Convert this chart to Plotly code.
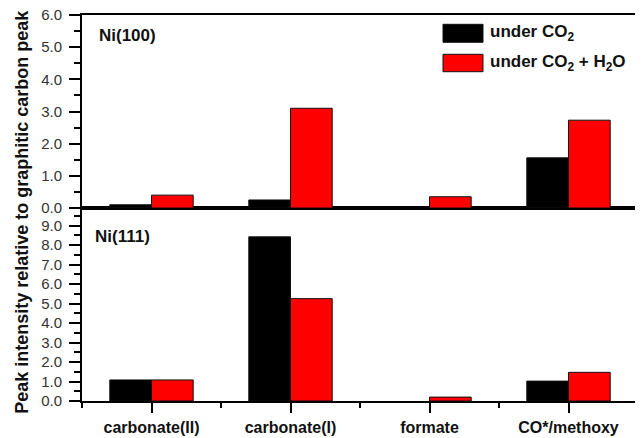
import plotly.graph_objects as go

categories = ["carbonate(II)", "carbonate(I)", "formate", "CO*/methoxy"]
ni100_co2 = [0.10, 0.25, 0.0, 1.56]
ni100_co2_h2o = [0.40, 3.10, 0.35, 2.73]
ni111_co2 = [1.08, 8.42, 0.0, 1.02]
ni111_co2_h2o = [1.08, 5.25, 0.20, 1.47]
series_names = ["under CO<sub>2</sub>", "under CO<sub>2</sub> + H<sub>2</sub>O"]
panel_labels = ["Ni(100)", "Ni(111)"]
ytitle = "Peak intensity relative to graphitic carbon peak"
top_ticks = [0, 1, 2, 3, 4, 5, 6]
bottom_ticks = [0, 1, 2, 3, 4, 5, 6, 7, 8, 9]

FONT = "Arial, Liberation Sans, sans-serif"
BLACK = "#000000"
RED = "#ff0000"

xpos = list(range(len(categories)))


def outline(values):
    # no outline for empty (zero) bars
    return dict(color="#111111", width=[1 if v > 0 else 0 for v in values])


fig = go.Figure()
fig.add_trace(go.Bar(x=xpos, y=ni100_co2, name=series_names[0],
                     marker=dict(color=BLACK, line=outline(ni100_co2)),
                     xaxis="x2", yaxis="y2", showlegend=False))
fig.add_trace(go.Bar(x=xpos, y=ni100_co2_h2o, name=series_names[1],
                     marker=dict(color=RED, line=outline(ni100_co2_h2o)),
                     xaxis="x2", yaxis="y2", showlegend=False))
fig.add_trace(go.Bar(x=xpos, y=ni111_co2, name=series_names[0],
                     marker=dict(color=BLACK, line=outline(ni111_co2)),
                     xaxis="x", yaxis="y", showlegend=False))
fig.add_trace(go.Bar(x=xpos, y=ni111_co2_h2o, name=series_names[1],
                     marker=dict(color=RED, line=outline(ni111_co2_h2o)),
                     xaxis="x", yaxis="y", showlegend=False))

yaxis_common = dict(
    showline=True, linecolor=BLACK, linewidth=2, mirror=True,
    ticks="outside", ticklen=11, tickwidth=2, tickcolor=BLACK,
    tickformat=".1f", showgrid=False, zeroline=False, automargin=False,
    tickfont=dict(family=FONT, size=15, color="#333333"),
    ticklabelstandoff=4, ticklabeloverflow="allow",
    minor=dict(dtick=0.5, tick0=0, ticks="outside", ticklen=6, tickwidth=2, tickcolor=BLACK, showgrid=False),
)

# page body has an 8px default margin, so the figure is 8px smaller and margins compensated
fig.update_layout(
    width=635, height=430,
    margin=dict(l=74, r=5, t=7, b=37),
    paper_bgcolor="white", plot_bgcolor="white",
    barmode="group", bargap=0.4, bargroupgap=0,
    font=dict(family=FONT, color=BLACK),
    showlegend=False,
    xaxis=dict(
        domain=[0, 1], anchor="y", range=[-0.5, len(categories) - 0.5],
        tickmode="array", tickvals=xpos, ticktext=["<b>%s</b>" % c for c in categories],
        showline=True, linecolor=BLACK, linewidth=2, mirror=True,
        ticks="outside", ticklen=10, tickwidth=2, tickcolor=BLACK,
        tickfont=dict(family=FONT, size=16, color="#111111"),
        ticklabelstandoff=1, automargin=False, ticklabeloverflow="allow",
        showgrid=False, zeroline=False,
        minor=dict(tickvals=[i - 0.5 for i in range(len(categories) + 1)], ticks="outside",
                   ticklen=5, tickwidth=2, tickcolor=BLACK, showgrid=False),
    ),
    yaxis=dict(domain=[0, 0.5], anchor="x", range=[0, 9.9], tickvals=bottom_ticks, **yaxis_common),
    xaxis2=dict(
        domain=[0, 1], anchor="y2", range=[-0.5, len(categories) - 0.5],
        showline=True, linecolor=BLACK, linewidth=2, mirror=True, automargin=False,
        ticks="", showticklabels=False, showgrid=False, zeroline=False,
    ),
    yaxis2=dict(domain=[0.5, 1], anchor="x2", range=[0, 6], tickvals=top_ticks, **yaxis_common),
)

annotations = [
    dict(text="<b>%s</b>" % panel_labels[0], x=0.027, y=0.948, xref="paper", yref="paper",
         xanchor="left", yanchor="middle", showarrow=False, font=dict(family=FONT, size=17, color="#111111")),
    dict(text="<b>%s</b>" % panel_labels[1], x=0.020, y=0.426, xref="paper", yref="paper",
         xanchor="left", yanchor="middle", showarrow=False, font=dict(family=FONT, size=17, color="#111111")),
    dict(text="<b>%s</b>" % ytitle, x=-0.108, y=0.49, xref="paper", yref="paper", textangle=-90,
         xanchor="center", yanchor="middle", showarrow=False, font=dict(family=FONT, size=18, color="#111111")),
    dict(text="<b>%s</b>" % series_names[0], x=0.7302, y=0.9526, xref="paper", yref="paper",
         xanchor="left", yanchor="middle", showarrow=False, font=dict(family=FONT, size=17, color="#111111")),
    dict(text="<b>%s</b>" % series_names[1], x=0.7302, y=0.8756, xref="paper", yref="paper",
         xanchor="left", yanchor="middle", showarrow=False, font=dict(family=FONT, size=17, color="#111111")),
]
fig.update_layout(annotations=annotations)

shapes = [
    dict(type="rect", xref="paper", yref="paper", x0=0.6493, x1=0.7212, y0=0.9293, y1=0.9759,
         fillcolor=BLACK, line=dict(color="#111111", width=1)),
    dict(type="rect", xref="paper", yref="paper", x0=0.6493, x1=0.7212, y0=0.8531, y1=0.8982,
         fillcolor=RED, line=dict(color="#111111", width=1)),
]
fig.update_layout(shapes=shapes)

fig.write_html("out.html")
